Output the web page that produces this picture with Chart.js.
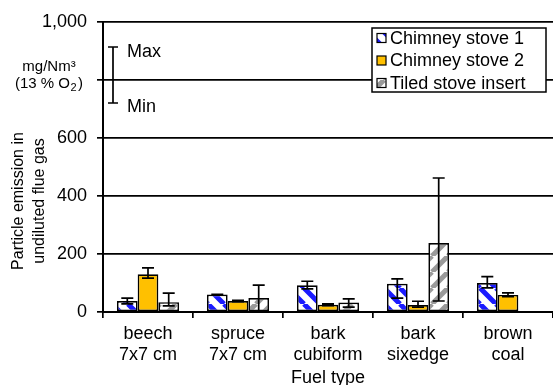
<!DOCTYPE html>
<html>
<head>
<meta charset="utf-8">
<script src="https://cdn.jsdelivr.net/npm/chart.js@4/dist/chart.umd.min.js"></script>
<style>
  html, body { margin: 0; padding: 0; background: #fff; }
  #wrap { width: 553px; height: 385px; position: relative; }
</style>
</head>
<body>
<div id="wrap"><canvas id="c" width="553" height="385"></canvas></div>
<script>
// Fuel types (two-line labels)
const categories = [
  ['beech', '7x7 cm'],
  ['spruce', '7x7 cm'],
  ['bark', 'cubiform'],
  ['bark', 'sixedge'],
  ['brown', 'coal']
];

// Mean particle emission, mg/Nm³ (13 % O2)
const stove1Values = [38, 60, 92, 97, 100];
const stove1Min    = [28, 59, 80, 48, 83];
const stove1Max    = [48, 61, 106, 114, 122];

const stove2Values = [130, 38, 25, 24, 59];
const stove2Min    = [117, 36, 22, 17, 53];
const stove2Max    = [152, 40, 28, 37, 66];

const tiledValues  = [34, 48, 33, 238, null];
const tiledMin     = [21, 4, 17, 38, null];
const tiledMax     = [65, 93, 45, 462, null];

const seriesLabels = ['Chimney stove 1', 'Chimney stove 2', 'Tiled stove insert'];
const yTickValues  = [0, 200, 400, 600, 800, 1000];
const yTickLabels  = ['0', '200', '400', '600', '', '1,000'];

const FONT = '"Liberation Sans", Arial, sans-serif';

function stripePattern(color, dir, size, width) {
  const cv = document.createElement('canvas');
  cv.width = size; cv.height = size;
  const g = cv.getContext('2d');
  g.fillStyle = '#ffffff';
  g.fillRect(0, 0, size, size);
  g.strokeStyle = color;
  g.lineWidth = width;
  g.beginPath();
  for (let k = -1; k <= 1; k++) {
    if (dir === '\\') {
      g.moveTo(k * size, 0); g.lineTo(k * size + size, size);
    } else {
      g.moveTo(k * size, size); g.lineTo(k * size + size, 0);
    }
  }
  g.stroke();
  return g.createPattern(cv, 'repeat');
}

const ctx0 = document.getElementById('c').getContext('2d');
const fillStove1 = stripePattern('#1a1aff', '\\', 16, 5);
const fillStove2 = '#ffc000';
const fillTiled  = stripePattern('#9a9a9a', '/', 16, 5);

const errorRanges = [
  [stove1Min, stove1Max],
  [stove2Min, stove2Max],
  [tiledMin, tiledMax]
];

// Whiskers drawn from the min/max arrays through the y scale
const errorBarPlugin = {
  id: 'errorBars',
  afterDatasetsDraw(chart) {
    const c = chart.ctx, y = chart.scales.y;
    c.save();
    c.strokeStyle = '#000';
    c.lineWidth = 1.7;
    chart.data.datasets.forEach((ds, di) => {
      const meta = chart.getDatasetMeta(di);
      const [mins, maxs] = errorRanges[di];
      meta.data.forEach((bar, i) => {
        if (mins[i] == null || ds.data[i] == null) return;
        const x = bar.x;
        const y1 = y.getPixelForValue(mins[i]);
        const y2 = y.getPixelForValue(maxs[i]);
        c.beginPath();
        c.moveTo(x, y1); c.lineTo(x, y2);
        c.moveTo(x - 6, y1); c.lineTo(x + 6, y1);
        c.moveTo(x - 6, y2); c.lineTo(x + 6, y2);
        c.stroke();
      });
    });
    c.restore();
  }
};

// Legend box, y-axis title and the unit / Max-Min key
const decorPlugin = {
  id: 'decor',
  afterDraw(chart) {
    const c = chart.ctx;
    c.save();

    // legend
    const lx = 372, ly = 28, lw = 174, lh = 64;
    c.fillStyle = '#fff';
    c.fillRect(lx, ly, lw, lh);
    c.strokeStyle = '#000';
    c.lineWidth = 1.5;
    c.strokeRect(lx, ly, lw, lh);
    const fills = [fillStove1, fillStove2, fillTiled];
    c.font = '18px ' + FONT;
    c.textBaseline = 'middle';
    c.textAlign = 'left';
    chart.data.datasets.forEach((ds, i) => {
      const cy = 38 + i * 22.5;
      c.fillStyle = fills[i];
      c.fillRect(377, cy - 4.5, 9, 9);
      c.lineWidth = 1.2;
      c.strokeStyle = '#000';
      c.strokeRect(377, cy - 4.5, 9, 9);
      c.fillStyle = '#000';
      c.fillText(ds.label, 390, cy + 1);
    });

    // y-axis title
    c.save();
    c.fillStyle = '#000';
    c.font = '16px ' + FONT;
    c.textAlign = 'center';
    c.textBaseline = 'middle';
    c.translate(19, 201);
    c.rotate(-Math.PI / 2);
    c.fillText('Particle emission in', 0, 0);
    c.fillText('undiluted flue gas', 0, 21);
    c.restore();

    // unit label
    c.fillStyle = '#000';
    c.textAlign = 'center';
    c.textBaseline = 'middle';
    c.font = '15px ' + FONT;
    c.fillText('mg/Nm³', 49, 67);
    c.textAlign = 'left';
    const part1 = '(13 % O';
    const w1 = c.measureText(part1).width;
    const wTot = w1 + 8 + c.measureText(')').width;
    const sx = 49 - wTot / 2;
    c.fillText(part1, sx, 84);
    c.font = '11px ' + FONT;
    c.fillText('2', sx + w1 + 0.5, 88);
    c.font = '15px ' + FONT;
    c.fillText(')', sx + w1 + 8, 84);

    // Max / Min key
    c.strokeStyle = '#000';
    c.lineWidth = 1.7;
    c.beginPath();
    c.moveTo(113, 47); c.lineTo(113, 103);
    c.moveTo(108, 47); c.lineTo(118, 47);
    c.moveTo(108, 103); c.lineTo(118, 103);
    c.stroke();
    c.font = '18px ' + FONT;
    c.textBaseline = 'middle';
    c.fillText('Max', 127, 52);
    c.fillText('Min', 127, 107);

    c.restore();
  }
};

new Chart(ctx0, {
  type: 'bar',
  data: {
    labels: categories,
    datasets: [
      { label: seriesLabels[0], data: stove1Values, backgroundColor: fillStove1 },
      { label: seriesLabels[1], data: stove2Values, backgroundColor: fillStove2 },
      { label: seriesLabels[2], data: tiledValues,  backgroundColor: fillTiled }
    ]
  },
  options: {
    responsive: false,
    animation: false,
    layout: { padding: { top: 22, right: 0, left: 0, bottom: 0 } },
    datasets: {
      bar: {
        borderColor: '#000',
        borderWidth: 1.7,
        borderSkipped: false,
        categoryPercentage: 0.69,
        barPercentage: 1.0
      }
    },
    plugins: {
      legend: { display: false },
      tooltip: { enabled: false }
    },
    scales: {
      x: {
        afterFit(s) { s.height = 73; },
        grid: {
          display: true,
          drawOnChartArea: false,
          drawTicks: true,
          tickLength: 6,
          color: '#000',
          lineWidth: 1.7,
          offset: true
        },
        border: { display: true, color: '#000', width: 2 },
        ticks: {
          color: '#000',
          font: { family: FONT, size: 18, lineHeight: 1.2 },
          padding: 5,
          maxRotation: 0,
          autoSkip: false
        },
        title: {
          display: true,
          text: 'Fuel type',
          color: '#000',
          font: { family: FONT, size: 18, lineHeight: 1.2 },
          padding: { top: 0, bottom: -4 }
        }
      },
      y: {
        min: 0,
        max: 1000,
        afterFit(s) { s.width = 103; },
        afterBuildTicks(s) { s.ticks = yTickValues.map(v => ({ value: v })); },
        grid: {
          color: '#000',
          lineWidth: 1.7,
          tickLength: 6,
          drawTicks: true
        },
        border: { display: true, color: '#000', width: 2 },
        ticks: {
          color: '#000',
          font: { family: FONT, size: 18 },
          padding: 10,
          callback(v) {
            const i = yTickValues.indexOf(v);
            return i >= 0 ? yTickLabels[i] : '';
          }
        }
      }
    }
  },
  plugins: [errorBarPlugin, decorPlugin]
});
</script>
</body>
</html>
